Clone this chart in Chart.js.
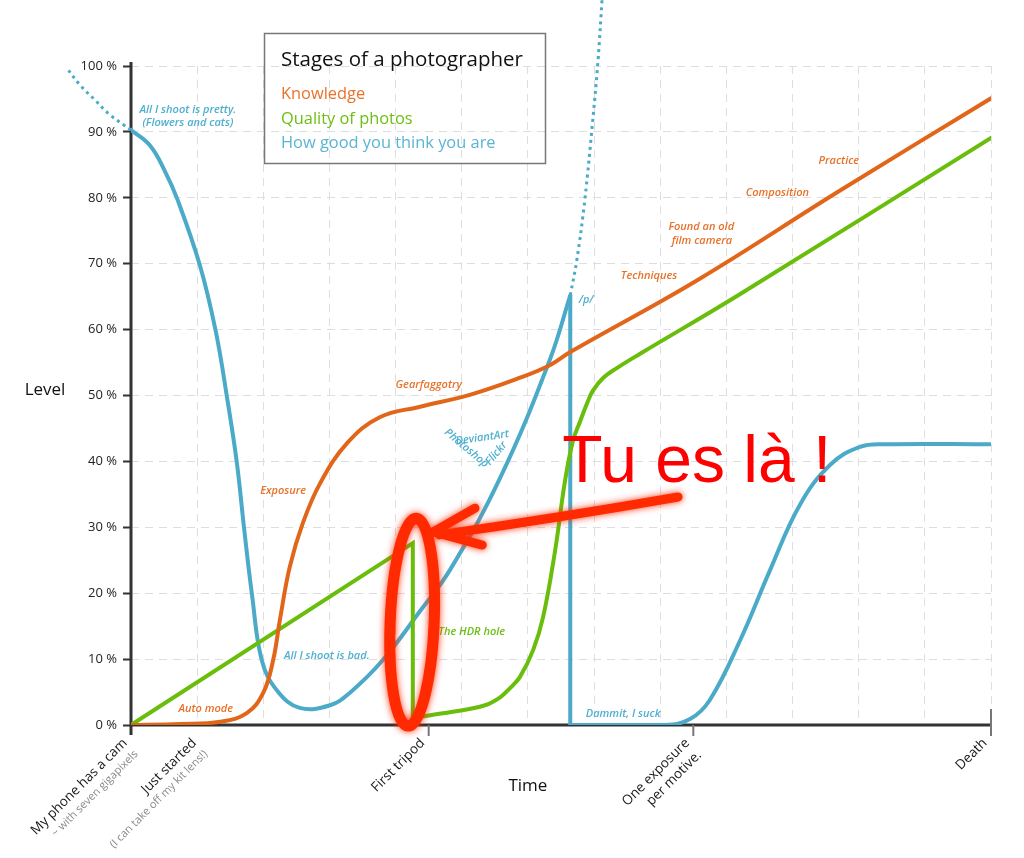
<!DOCTYPE html>
<html>
<head>
<meta charset="utf-8">
<script src="https://cdn.jsdelivr.net/npm/chart.js@4.4.0/dist/chart.umd.min.js"></script>
<style>
html,body{margin:0;padding:0;background:#fff}
</style>
</head>
<body>
<canvas id="c" width="1024" height="858"></canvas>
<script>
// --- data (x = time units, y = level %) ---
const xTickPos  = [0, 1.05, 4.5, 8.5, 13];
const xTickMain = ['My phone has a cam', 'Just started', 'First tripod', ['One exposure', 'per motive.'], 'Death'];
const xTickSub  = ['~ with seven gigapixels', '(I can take off my kit lens!)', '', '', ''];
const xTickMark = [false, false, true, true, true];

const seriesNames = ['Knowledge', 'Quality of photos', 'How good you think you are'];

const knowledge = [[0,0],[0.74,0.15],[1.35,0.5],[1.75,1.8],[2.0,4.9],[2.15,9.9],[2.25,15.9],[2.4,24],[2.6,30.7],
  [2.86,36.7],[3.27,42.8],[3.76,46.7],[4.37,48.3],[5.12,50.1],[5.88,52.7],[6.33,54.6],[6.64,56.6],[8.56,67.5],[10.7,81.0],[13,95.1]];

const qualityLine  = [[0,0],[4.26,27.6],[4.26,1.1]];
const qualityCurve = [[4.26,1.1],[4.86,2.0],[5.35,3.0],[5.58,4.2],[5.73,5.6],[5.88,7.3],[6.08,11.4],[6.23,16.4],[6.41,26.4],
  [6.56,37.0],[6.68,43.1],[6.79,46.1],[6.89,48.7],[6.98,50.7],[7.14,52.7],[7.35,54.2],[7.69,56.3],[9.21,65.4],[13,89.1]];

// listed right to left: it runs outside the axis range
const thinkDotStart = [[0,90.3],[-0.32,92.6],[-0.54,94.8],[-0.77,97.1],[-0.97,99.7]];
const thinkFall = [[0,90.3],[0.29,87.9],[0.51,84.1],[0.70,79.8],[1.04,69.8],[1.28,59.8],[1.45,49.8],[1.60,39.8],[1.71,29.8],
  [1.83,19.7],[1.98,9.7],[2.21,5.2],[2.55,2.6],[3.01,3.0],[3.31,4.9],[3.81,9.9],[4.37,17.3],[4.82,23.5],[5.58,37.5],
  [6.33,55.4],[6.64,65.2]];
const thinkDrop = [[6.64,65.2],[6.64,0]];
const thinkRise = [[6.64,0],[8.07,0],[8.45,0.9],[8.75,3.8],[9.21,12.9],[9.66,23.5],[10.11,33.4],[10.57,39.5],
  [11.02,42.2],[11.4,42.6],[13,42.6]];
const thinkDotEnd = [[6.64,65.2],[6.74,70.6],[6.86,79.7],[6.98,91.8],[7.06,100.9],[7.12,110]];

// annotations: text, x, y, colour key, angle (deg)
const notes = [
  ['All I shoot is pretty.', 0.86, 93.3, 'b', 0],
  ['(Flowers and cats)', 0.86, 91.4, 'b', 0],
  ['Auto mode', 1.13, 2.4, 'o', 0],
  ['Exposure', 2.3, 35.5, 'o', 0],
  ['Gearfaggotry', 4.5, 51.6, 'o', 0],
  ['All I shoot is bad.', 2.96, 10.5, 'b', 0],
  ['The HDR hole', 5.15, 14.1, 'g', 0],
  ['Dammit, I suck', 7.44, 1.7, 'b', 0],
  ['/p/', 6.88, 64.5, 'b', 0],
  ['Techniques', 7.83, 68.1, 'o', 0],
  ['Found an old', 8.62, 75.6, 'o', 0],
  ['film camera', 8.63, 73.4, 'o', 0],
  ['Composition', 9.77, 80.7, 'o', 0],
  ['Practice', 10.7, 85.6, 'o', 0],
  ['DeviantArt', 5.31, 43.6, 'b', -8],
  ['Photoshop', 5.07, 42.0, 'b', 40],
  ['Flickr', 5.52, 41.2, 'b', -50]
];

const ORANGE = '#e2661a', GREEN = '#69bd0b', BLUE = '#4aaac8';
const noteColor = {o:'#e8722a', g:'#6cbf12', b:'#4fb0d0'};

const pts = a => a.map(p => ({x:p[0], y:p[1]}));

function lineSet(arr, color, opts) {
  return Object.assign({
    data: pts(arr), borderColor: color, borderWidth: 4, pointRadius: 0,
    fill: false, tension: 0.4, borderCapStyle: 'round', borderJoinStyle: 'round'
  }, opts || {});
}

const straight = {tension: 0, borderCapStyle: 'butt', borderJoinStyle: 'miter'};
const dotted = {borderDash: [3, 4], borderWidth: 3, clip: false, borderCapStyle: 'butt'};

const datasets = [
  lineSet(knowledge, ORANGE),
  lineSet(qualityLine, GREEN, straight),
  lineSet(qualityCurve, GREEN),
  lineSet(thinkDotStart, BLUE, dotted),
  lineSet(thinkFall, BLUE),
  lineSet(thinkDrop, BLUE, straight),
  lineSet(thinkRise, BLUE),
  lineSet(thinkDotEnd, BLUE, dotted)
];

const FONT = '"Open Sans", sans-serif';

const decor = {
  id: 'decor',
  beforeDatasetsDraw(chart) {
    const {ctx, chartArea: a} = chart;
    ctx.save();
    ctx.strokeStyle = '#333';
    ctx.lineWidth = 3;
    ctx.beginPath();
    ctx.moveTo(a.left, a.top - 4); ctx.lineTo(a.left, a.bottom + 10);
    ctx.moveTo(a.left, a.bottom); ctx.lineTo(a.right, a.bottom);
    ctx.stroke();
    ctx.restore();
  },
  afterDatasetsDraw(chart) {
    const {ctx, chartArea: a, scales: {x: xs, y: ys}} = chart;
    ctx.save();

    // x tick marks
    ctx.strokeStyle = '#777';
    ctx.lineWidth = 2;
    xTickPos.forEach((v, i) => {
      if (!xTickMark[i]) return;
      const px = xs.getPixelForValue(v);
      ctx.beginPath();
      ctx.moveTo(px, i === xTickPos.length - 1 ? a.bottom - 16 : a.bottom);
      ctx.lineTo(px, a.bottom + 11);
      ctx.stroke();
    });

    // rotated x labels
    xTickPos.forEach((v, i) => {
      const px = xs.getPixelForValue(v);
      ctx.save();
      ctx.translate(px - 6, a.bottom + 16);
      ctx.rotate(-Math.PI / 4);
      ctx.textAlign = 'right';
      ctx.textBaseline = 'middle';
      const lines = [].concat(xTickMain[i]);
      ctx.fillStyle = '#1a1a1a';
      ctx.font = '13.5px ' + FONT;
      lines.forEach((t, j) => ctx.fillText(t, 0, j * 17));
      if (xTickSub[i]) {
        ctx.fillStyle = '#888';
        ctx.font = '11px ' + FONT;
        ctx.fillText(xTickSub[i], 0, 16);
      }
      ctx.restore();
    });

    // axis titles
    ctx.fillStyle = '#111';
    ctx.font = '17px ' + FONT;
    ctx.textAlign = 'center';
    ctx.textBaseline = 'middle';
    ctx.fillText('Time', xs.getPixelForValue(6.0), a.bottom + 61);
    ctx.fillText('Level', a.left - 86, ys.getPixelForValue(50.8));

    // annotations
    notes.forEach(n => {
      ctx.save();
      ctx.translate(xs.getPixelForValue(n[1]), ys.getPixelForValue(n[2]));
      ctx.rotate(n[4] * Math.PI / 180);
      ctx.fillStyle = noteColor[n[3]];
      ctx.font = 'italic 600 11px ' + FONT;
      ctx.textAlign = 'center';
      ctx.textBaseline = 'middle';
      ctx.fillText(n[0], 0, 0);
      ctx.restore();
    });

    // legend box
    ctx.strokeStyle = '#777';
    ctx.lineWidth = 1.5;
    ctx.strokeRect(264.5, 33.5, 281, 130);
    ctx.textAlign = 'left';
    ctx.textBaseline = 'alphabetic';
    ctx.fillStyle = '#111';
    ctx.font = '20.5px ' + FONT;
    ctx.fillText('Stages of a photographer', 281, 66);
    ctx.font = '16.4px ' + FONT;
    const legCol = ['#e8722a', '#6cbf12', '#5ab4d4'];
    seriesNames.forEach((s, i) => {
      ctx.fillStyle = legCol[i];
      ctx.fillText(s, 281, 99 + i * 24.5);
    });

    // red scribbles
    ctx.strokeStyle = '#ff2a00';
    ctx.shadowColor = 'rgba(255,40,0,0.9)';
    ctx.shadowBlur = 7;
    ctx.lineCap = 'round';
    ctx.lineJoin = 'round';
    ctx.lineWidth = 11;
    ctx.beginPath();
    ctx.ellipse(xs.getPixelForValue(4.25), ys.getPixelForValue(15.6), 22, 104, 0.04, 0, Math.PI * 2);
    ctx.stroke();

    ctx.lineWidth = 9;
    const tip = [xs.getPixelForValue(4.57), ys.getPixelForValue(29.3)];
    ctx.beginPath();
    ctx.moveTo(xs.getPixelForValue(8.27), ys.getPixelForValue(34.6));
    ctx.quadraticCurveTo(xs.getPixelForValue(6.5), ys.getPixelForValue(31.5), tip[0] + 6, tip[1] + 3);
    ctx.moveTo(xs.getPixelForValue(5.2), ys.getPixelForValue(32.9));
    ctx.lineTo(tip[0], tip[1]);
    ctx.lineTo(xs.getPixelForValue(5.31), ys.getPixelForValue(27.3));
    ctx.stroke();

    ctx.shadowBlur = 0;
    ctx.fillStyle = '#ff0000';
    ctx.font = '66px "Liberation Sans", Arial, sans-serif';
    ctx.textAlign = 'left';
    ctx.fillText('Tu es là !', xs.getPixelForValue(6.52), ys.getPixelForValue(36.9));

    ctx.restore();
  }
};

new Chart(document.getElementById('c'), {
  type: 'line',
  data: {datasets},
  options: {
    responsive: false,
    animation: false,
    layout: {padding: {top: 66, right: 33, left: 0, bottom: 0}},
    plugins: {legend: {display: false}, tooltip: {enabled: false}},
    scales: {
      x: {
        type: 'linear', min: 0, max: 13,
        afterFit: s => { s.height = 133; },
        ticks: {display: false, stepSize: 1},
        grid: {color: '#dedede', lineWidth: 1, drawTicks: false},
        border: {display: false, dash: [8, 6]}
      },
      y: {
        min: 0, max: 100,
        afterFit: s => { s.width = 131; },
        ticks: {stepSize: 10, padding: 6, color: '#222', font: {size: 13, family: FONT},
                callback: v => v + ' %'},
        grid: {color: '#dedede', lineWidth: 1, tickColor: '#333', tickLength: 8, tickWidth: 2, tickBorderDash: []},
        border: {display: false, dash: [8, 6]}
      }
    }
  },
  plugins: [decor]
});
</script>
</body>
</html>
